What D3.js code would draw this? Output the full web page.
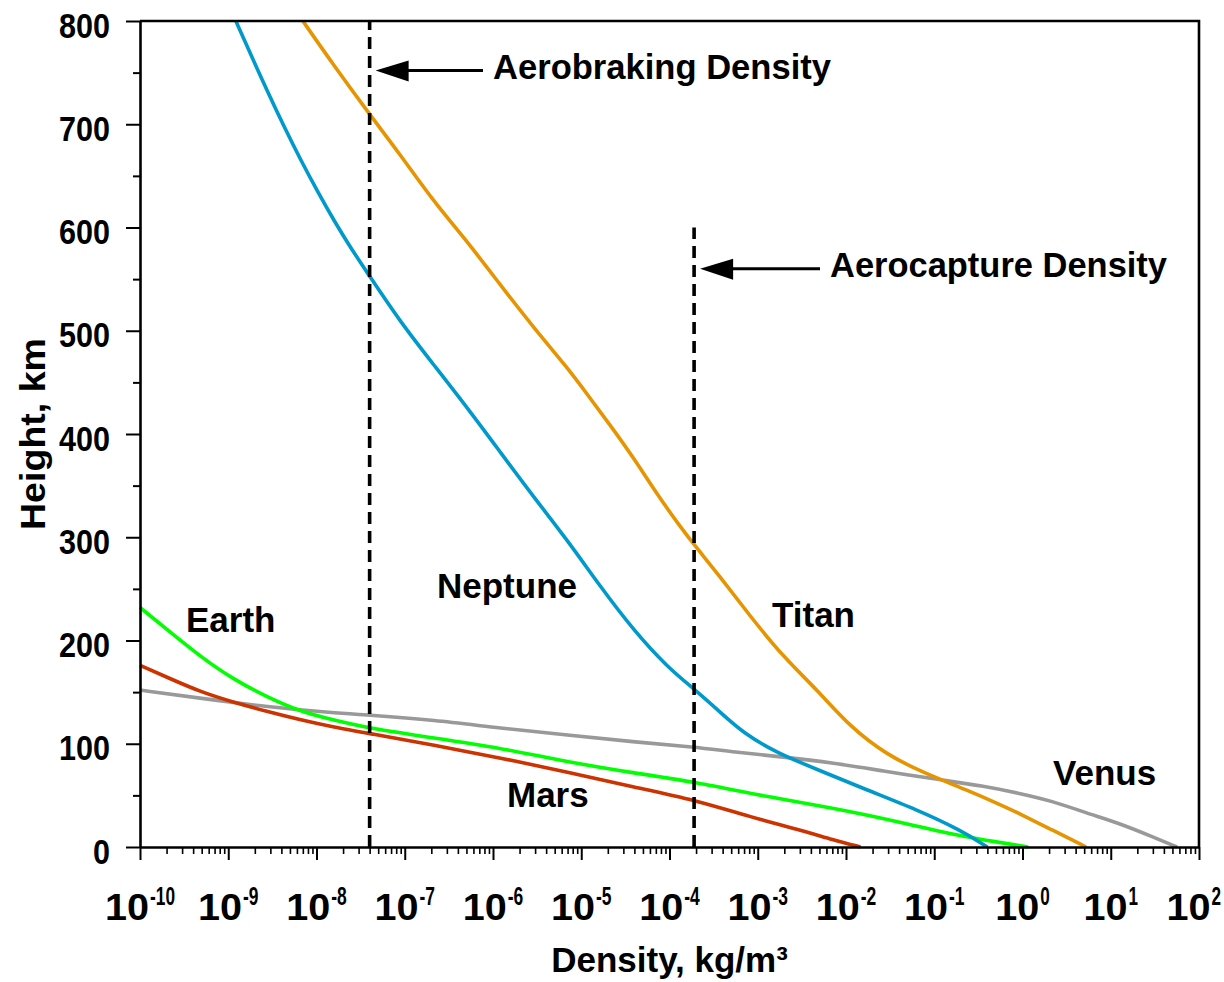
<!DOCTYPE html>
<html><head><meta charset="utf-8">
<script src="https://cdn.jsdelivr.net/npm/d3@7"></script>
<style>
html,body{margin:0;padding:0;background:#fff;}
svg{display:block;}
text{font-family:"Liberation Sans",Arial,Helvetica,sans-serif;font-weight:bold;fill:#000;}
</style></head><body>
<svg id="chart" width="1224" height="982"></svg>
<script>
// ---------- data ----------
const heightTicks = [0,100,200,300,400,500,600,700,800];
const heightMinorTicks = [50,150,250,350,450,550,650,750];
const densityExponents = [-10,-9,-8,-7,-6,-5,-4,-3,-2,-1,0,1,2];

// [density kg/m^3, height km]
const neptune = [[1.22e-9,800],[1.81e-9,767],[2.81e-9,731],[4.27e-9,698],[6.65e-9,665],[1.04e-8,634],[1.57e-8,607],[2.45e-8,580],[3.92e-8,554],[9.0e-8,508],[2.13e-7,467],[5.16e-7,425],[1.22e-6,382],[2.89e-6,339],[7.0e-6,297],[1.65e-5,252],[3.91e-5,210],[9.5e-5,174],[1.97e-4,152],[3.5e-4,133],[6.9e-4,110],[1.67e-3,91],[4.74e-3,75],[1.75e-2,55],[6.4e-2,36],[0.197,16.5],[0.40,0]];
const titan = [[7.0e-9,800],[1.57e-8,757],[3.81e-8,712],[9.0e-8,670],[2.13e-7,625],[5.16e-7,586],[1.22e-6,544],[2.89e-6,503],[7.0e-6,464],[1.18e-5,438],[2.15e-5,408],[3.91e-5,377],[7.3e-5,341],[1.33e-4,310],[1.97e-4,291],[3.5e-4,265],[8.3e-4,223],[1.95e-3,184],[4.74e-3,152],[1.12e-2,116],[2.94e-2,89],[7.5e-2,72],[0.237,55],[0.558,41],[0.89,33],[2.17,16.5],[5.26,0]];
const venus = [[1e-10,152],[4.9e-10,144],[2.81e-9,135.6],[1.57e-8,129.8],[3.92e-8,127.8],[2.13e-7,123],[1.22e-6,115],[7.0e-6,108.5],[3.9e-5,101.7],[1.97e-4,96.9],[5.3e-4,92],[1.95e-3,87.2],[7.2e-3,81.4],[2.65e-2,73.6],[0.1,65.9],[0.368,59],[0.89,52.3],[2.17,44.6],[5.26,33],[12.4,23.2],[30.2,9.7],[56.4,0]];
const earth = [[1e-10,232],[2.07e-10,210],[4.9e-10,184],[1.16e-9,162],[2.81e-9,145],[6.65e-9,131],[1.57e-8,123],[3.92e-8,115],[2.13e-7,105.6],[1.22e-6,95.9],[7.0e-6,82.3],[3.91e-5,71.7],[1.97e-4,63],[1.29e-3,48.4],[7.2e-3,37.8],[4.1e-2,24.2],[0.152,12.6],[0.368,6.8],[1.16,0]];
const mars = [[1e-10,176],[2.07e-10,164],[4.9e-10,150],[1.16e-9,140],[2.81e-9,131],[6.65e-9,123],[1.57e-8,116],[3.92e-8,110],[2.13e-7,98.8],[1.22e-6,86.2],[7.0e-6,72.6],[3.91e-5,58.1],[1.97e-4,45.5],[8.3e-4,29],[3.04e-3,16.5],[7.2e-3,6.8],[1.46e-2,0]];

const seriesNames = ["Venus","Mars","Earth","Neptune","Titan"];
const seriesData = [venus, mars, earth, neptune, titan];
const seriesColors = ["#999999","#cc3300","#00ff00","#0099cc","#e69500"];

// reference densities (kg/m^3) and their top heights (km)
const aerobrakingDensity = 4.0e-8, aerobrakingTop = 800, aerobrakingArrowH = 752;
const aerocaptureDensity = 1.9e-4, aerocaptureTop = 600, aerocaptureArrowH = 560;

// ---------- chart ----------
const svg = d3.select('#chart');
const x = d3.scaleLog().domain([1e-10,1e2]).range([140,1199]);
const y = d3.scaleLinear().domain([0,800]).range([847,21]);
const FONT = '"Liberation Sans",Arial,Helvetica,sans-serif';

// curves
const line = d3.line().x(d=>x(d[0])).y(d=>y(d[1])).curve(d3.curveBasis);
seriesData.forEach((s,i)=>{
  svg.append('path').attr('d', line(s)).attr('fill','none')
    .attr('stroke', seriesColors[i]).attr('stroke-width',3.6)
    .attr('stroke-linejoin','round');
});

// dashed reference lines
[[aerobrakingDensity, aerobrakingTop],[aerocaptureDensity, aerocaptureTop]].forEach(([d,t])=>{
  svg.append('line').attr('x1',x(d)).attr('x2',x(d)).attr('y1',y(0)).attr('y2',y(t))
    .attr('stroke','#000').attr('stroke-width',3.6).attr('stroke-dasharray','12,7');
});

// frame (top & right)
svg.append('path')
  .attr('d',`M${x.range()[0]},${y(800)}H${x.range()[1]}V${y(0)}`)
  .attr('fill','none').attr('stroke','#000').attr('stroke-width',2.6);

// y axis
const gy = svg.append('g').attr('transform',`translate(${x.range()[0]},0)`)
  .call(d3.axisLeft(y).tickValues(heightTicks).tickSize(14).tickSizeOuter(0).tickFormat(d3.format('d')));
gy.select('.domain').attr('stroke-width',2.6);
gy.selectAll('.tick line').attr('stroke-width',2);
gy.selectAll('.tick text').attr('x',-30).attr('dy',16)
  .attr('font-size',35).attr('font-family',FONT).attr('font-weight','bold')
  .attr('textLength',d=>String(d).length*17).attr('lengthAdjust','spacingAndGlyphs');
const gy2 = svg.append('g').attr('transform',`translate(${x.range()[0]},0)`)
  .call(d3.axisLeft(y).tickValues(heightMinorTicks).tickSize(7).tickFormat(''));
gy2.select('.domain').remove();
gy2.selectAll('.tick line').attr('stroke-width',2);

// x axis
const gx = svg.append('g').attr('transform',`translate(0,${y(0)})`)
  .call(d3.axisBottom(x).tickValues(densityExponents.map(e=>Math.pow(10,e))).tickSize(13).tickSizeOuter(0).tickFormat(''));
gx.select('.domain').attr('stroke-width',2.6);
gx.selectAll('.tick line').attr('stroke-width',2);
const minors = [];
densityExponents.slice(0,-1).forEach(e=>{ for(let m=2;m<=9;m++) minors.push(m*Math.pow(10,e)); });
const gx2 = svg.append('g').attr('transform',`translate(0,${y(0)})`)
  .call(d3.axisBottom(x).tickValues(minors).tickSize(7).tickFormat(''));
gx2.select('.domain').remove();
gx2.selectAll('.tick line').attr('stroke-width',1.6);

// x tick labels 10^e
densityExponents.forEach(e=>{
  const sup = (e<0?'-':'') + Math.abs(e);
  const supW = (e<0?6:0) + String(Math.abs(e)).length*9.5;
  const baseW = 44;
  const total = baseW + 1 + supW;
  const x0 = Math.min(x(Math.pow(10,e)) - total/2, 1221 - total);
  const by = y(0) + 73;
  svg.append('text').attr('x',x0).attr('y',by).attr('font-size',37)
    .attr('textLength',baseW).attr('lengthAdjust','spacingAndGlyphs').text('10');
  svg.append('text').attr('x',x0+baseW+1).attr('y',by-15).attr('font-size',25)
    .attr('textLength',supW).attr('lengthAdjust','spacingAndGlyphs').text(sup);
});

// axis titles
svg.append('text').attr('x',(x.range()[0]+x.range()[1])/2).attr('y',972)
  .attr('text-anchor','middle').attr('font-size',35).text('Density, kg/m³');
svg.append('text').attr('transform',`translate(45,${(y(0)+y(800))/2}) rotate(-90)`)
  .attr('text-anchor','middle').attr('font-size',35).attr('textLength',192)
  .attr('lengthAdjust','spacingAndGlyphs').text('Height, km');

// series labels
const labelPos = {Earth:[186,632], Neptune:[437,598], Titan:[772,627], Mars:[507,807], Venus:[1053,785]};
seriesNames.forEach(n=>{
  svg.append('text').attr('x',labelPos[n][0]).attr('y',labelPos[n][1]).attr('font-size',35).text(n);
});

// annotations with arrows
function arrow(d, h, lineEnd, text, textX, tl){
  const tip = x(d) + 6, ay = y(h);
  svg.append('line').attr('x1',tip+30).attr('x2',lineEnd).attr('y1',ay).attr('y2',ay)
    .attr('stroke','#000').attr('stroke-width',3);
  svg.append('path').attr('d',`M${tip},${ay}L${tip+33},${ay-10}L${tip+33},${ay+11}Z`).attr('fill','#000');
  svg.append('text').attr('x',textX).attr('y',ay+8).attr('font-size',35)
    .attr('textLength',tl).attr('lengthAdjust','spacingAndGlyphs').text(text);
}
arrow(aerobrakingDensity, aerobrakingArrowH, 483, 'Aerobraking Density', 493, 338);
arrow(aerocaptureDensity, aerocaptureArrowH, 820, 'Aerocapture Density', 830, 337);
</script>
</body></html>
